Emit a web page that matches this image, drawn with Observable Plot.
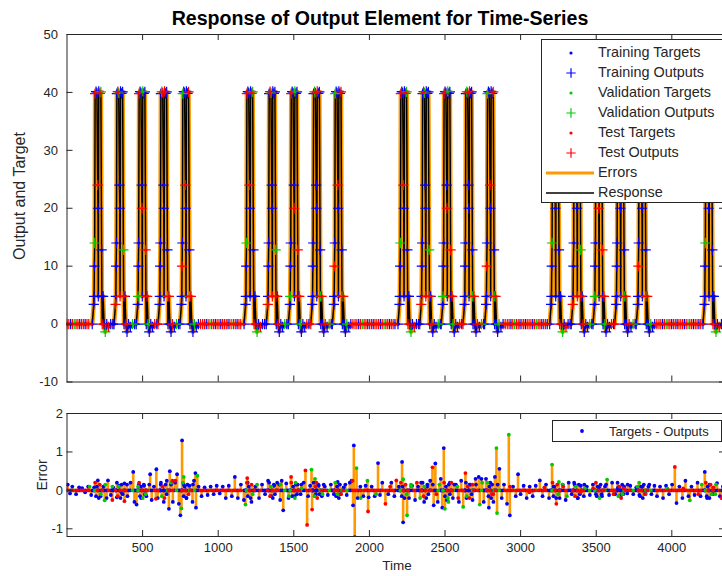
<!DOCTYPE html>
<html>
<head>
<meta charset="utf-8">
<script src="https://cdn.jsdelivr.net/npm/d3@7"></script>
<script src="https://cdn.jsdelivr.net/npm/@observablehq/plot@0.6"></script>
<style>
html, body { margin:0; padding:0; background:#fff; width:722px; height:576px; overflow:hidden; }
#wrap { position:relative; width:730px; height:576px; font-family:"Liberation Sans", Arial, Helvetica, sans-serif; color:#262626; }
#wrap svg.panel { position:absolute; left:0; }
.abs { position:absolute; white-space:nowrap; line-height:1; }
</style>
</head>
<body>
<div id="wrap"></div>
<script>
// ---------------- data ----------------
const xTicks = [500, 1000, 1500, 2000, 2500, 3000, 3500, 4000];
const yTicksTop = [-10, 0, 10, 20, 30, 40, 50];
const yTicksErr = [-1, 0, 1, 2];

// time of each pulse's rising edge (5 groups)
const pulseStarts = [177, 321, 468, 612, 757,
                     1181, 1328, 1474, 1622, 1765,
                     2199, 2343, 2485, 2629, 2772,
                     3202, 3345, 3489, 3632, 3775,
                     4216];
// shape of one pulse: time offsets and target levels
const pulseOffsets = [-10, 0, 2, 4, 6, 9, 15, 21, 26, 28, 30, 33, 40, 47, 52, 54, 56, 62, 68, 76, 86, 98, 112, 126];
const pulseLevels  = [0, 3.4, 4.8, 10, 14, 40, 40, 40, 24, 20, 4.8, 40, 40, 40, 12.8, 4.8, 0, 4.8, 0, -1.2, 0, -0.5, 0, 0];
const pulseShift   = [0, 0, 0, 0, 0, -0.2, 0.15, -0.1, 0, 0, 0, 0.2, -0.15, 0.1, 0, 0, 0, 0, 0, -0.15, 0, 0, 0, 0];
// data division of each pulse point (T training, V validation, S test), by pulse position in group
const pulseSetPatterns = [
  "TTTTVSTTSTTTSVTTSTTVTSTT",
  "TSTTTTSVTTSTTTVSTTSTTTVT",
  "TTVTTSTTTSTVTTSTTSVTTTST",
  "STTTTTVSTTTSTTTVTSTTSTVT",
  "TTTSTVTTSTTTTSTVTSTTVTTS"
];
// flat (zero) stretches between pulse groups
const flatStarts = [0, 897, 1905, 2912, 3915];
const flatEnds   = [155, 1159, 2177, 3180, 4194];
const flatStep = 12;
const flatSets = "SSTSVSSTSSTS";

// extra error samples (time, target - output) by division
const trainErrors = [[5,.15],[20,-.08],[35,.1],[60,-.1],[80,.08],[100,.06],[120,-.05],[140,.1],[160,-.12],[180,.08],
[204,.26],[222,-.15],[240,.1],[262,-.2],[271,.26],[290,-.12],[305,.08],[330,-.18],[345,.12],[360,-.05],
[380,.18],[400,-.15],[420,.2],[438,.48],[446,-.3],[460,-.37],[475,.15],[490,-.2],[510,.12],[525,-.15],
[550,.42],[560,-.25],[575,.1],[591,.55],[600,-.2],[620,.15],[640,-.3],[660,.25],[674,-.48],[680,.5],
[700,-.3],[715,.2],[728,.42],[740,-.35],[750,-.65],[761,1.3],[772,.15],[790,-.2],[810,.12],[830,-.3],
[840,.25],[849,.45],[853,-.45],[870,.1],[890,-.15],[910,.08],[930,-.12],[950,.1],[970,-.1],[990,.12],
[1010,-.08],[1030,.1],[1050,-.2],[1070,.12],[1090,-.15],[1110,.35],[1130,-.2],[1150,.15],[1170,-.25],[1195,.2],
[1220,-.3],[1245,.1],[1270,-.2],[1290,.15],[1310,-.1],[1330,.25],[1350,-.15],[1370,.12],[1390,.2],[1410,-.25],
[1420,.25],[1430,-.52],[1450,.18],[1465,-.2],[1505,-.15],[1525,.15],[1545,-.1],[1565,.2],[1595,-.15],[1608,.12],
[1645,-.1],[1665,.12],[1685,-.15],[1705,.1],[1725,-.12],[1745,.15],[1765,-.1],[1790,.22],[1810,-.1],[1830,.08],
[1850,-.12],[1870,.2],[1882,.25],[1892,-.39],[1897,1.17],[1903,-1.22],[1922,-.2],[1940,.1],[1960,-.15],[1975,.12],
[1995,-.18],[2015,.1],[2035,-.15],[2057,.71],[2070,-.12],[2085,.2],[2125,-.1],[2145,.2],[2165,-.15],[2195,.1],
[2216,.74],[2223,-.83],[2262,-.2],[2282,.12],[2302,-.25],[2322,.1],[2342,.2],[2362,-.3],[2382,.1],[2402,.25],
[2425,-.39],[2436,.7],[2452,-.3],[2472,.3],[2482,-.45],[2492,1.1],[2512,-.25],[2532,.2],[2552,-.2],[2572,.15],
[2592,-.3],[2607,.25],[2642,-.2],[2662,.15],[2682,-.25],[2702,.3],[2723,.35],[2741,.3],[2756,-.3],[2771,.3],
[2790,-.45],[2800,.2],[2820,-.3],[2830,.35],[2860,.56],[2875,-.2],[2890,.15],[2910,-.35],[2929,-.65],[2950,.1],
[2968,-.15],[2983,.42],[3000,-.1],[3020,.12],[3040,-.2],[3060,.1],[3080,-.15],[3100,.12],[3127,.26],[3145,-.15],
[3168,.15],[3188,-.2],[3218,.1],[3258,-.2],[3278,.15],[3298,-.25],[3318,.2],[3338,-.1],[3358,.15],[3378,-.2],
[3398,.12],[3418,-.15],[3438,.1],[3458,-.12],[3478,.15],[3498,-.1],[3518,.08],[3538,-.15],[3558,.1],[3585,-.12],
[3605,.2],[3625,-.1],[3645,.08],[3665,-.12],[3685,.1],[3705,-.08],[3725,.12],[3745,-.1],[3765,.08],[3785,-.12],
[3805,.1],[3825,-.08],[3845,.1],[3865,-.1],[3885,.12],[3902,-.15],[3922,.1],[3942,-.2],[3962,.12],[3982,-.1],
[4002,.15],[4031,-.33],[4050,.1],[4070,-.2],[4090,.25],[4110,-.15],[4130,.1],[4150,-.12],[4170,.2],[4190,-.15],
[4218,.48],[4233,-.2],[4250,.15],[4270,-.1],[4299,.19],[4318,-.15],[4338,.1],[4352,-.1]];
const valErrors = [[150,.1],[249,-.26],[300,.1],[470,.1],[520,-.1],[688,.2],[757,-.47],[772,.35],[862,.38],[1180,-.37],
[1412,.15],[1467,-.15],[1512,.2],[1550,.05],[1617,.54],[1640,.3],[1690,-.1],[1790,-.1],[1915,.58],[1942,-.2],
[1987,.25],[2045,-.1],[2223,.29],[2249,-.65],[2275,.1],[2335,-.2],[2463,.15],[2499,-.48],[2522,-.3],[2582,.1],
[2620,-.43],[2730,-.37],[2746,.2],[2840,1.1],[2844,-.59],[2922,1.45],[3208,.67],[3253,.22],[3306,-.15],[3425,.05],
[3572,.28],[3673,-.1],[3772,.1],[3827,-.1],[3971,.05],[4119,-.26],[4198,.15],[4288,-.1]];
const testErrors = [[300,-.25],[380,-.28],[588,-.22],[697,.25],[717,.25],[1192,.32],[1482,.35],[1577,.52],[1588,-.9],[1621,-.5],
[1650,.2],[1888,.25],[1991,-.55],[2106,-.35],[2137,.1],[2178,.26],[2314,.2],[2417,.6],[2443,-.1],[2542,.2],
[2587,-.2],[2635,.45],[2682,.15],[2810,-.1],[2930,.1],[3058,-.05],[3157,.08],[3236,-.35],[3282,.1],[3396,-.05],
[3480,.05],[3614,-.1],[3680,.05],[4020,.61],[4075,.05],[4175,-.1],[4274,.08],[4328,-.2]];

const legendLabels = ["Training Targets","Training Outputs","Validation Targets","Validation Outputs","Test Targets","Test Outputs","Errors","Response"];
const titleText = "Response of Output Element for Time-Series";

// ---------------- build tables ----------------
const topRows = [];
pulseStarts.forEach((start, i) => {
  const sets = pulseSetPatterns[i % pulseSetPatterns.length];
  pulseOffsets.forEach((off, k) => {
    topRows.push({t: start + off, target: pulseLevels[k], output: pulseLevels[k] + pulseShift[k], set: sets[k]});
  });
});
flatStarts.forEach((s, i) => {
  let n = 0;
  for (let t = s; t <= flatEnds[i]; t += flatStep, n++) {
    topRows.push({t, target: 0, output: 0, set: flatSets[n % flatSets.length]});
  }
});
topRows.sort((a, b) => a.t - b.t);

const errRows = topRows.map(d => ({t: d.t, e: d.target - d.output, set: d.set}))
  .concat(trainErrors.map(([t, e]) => ({t, e, set: "T"})))
  .concat(valErrors.map(([t, e]) => ({t, e, set: "V"})))
  .concat(testErrors.map(([t, e]) => ({t, e, set: "S"})));

// ---------------- styles ----------------
const COL = {T: "#0000ff", V: "#00cc00", S: "#ff0000"};
const ORANGE = "#ff9900";
const AX = "#262626";
const FONT = '"Liberation Sans", Arial, Helvetica, sans-serif';
const plotStyle = {fontFamily: FONT, fontSize: "13px", color: AX, background: "transparent", maxWidth: "none", overflow: "visible"};
const W = 730, ML = 66.5, MR = 5;
const innerW = W - ML - MR;
const xDomain = [0, 4355];
const tickLen = 6;
const fmt = d => String(d);

const wrap = document.getElementById("wrap");

// ---------------- top panel ----------------
const H1 = 395, MT1 = 34, MB1 = 13.5, innerH1 = H1 - MT1 - MB1;
const topMarks = [
  Plot.line(topRows, {x: "t", y: "output", stroke: ORANGE, strokeWidth: 4.5, clip: true}),
  Plot.line(topRows, {x: "t", y: "output", stroke: "#000", strokeWidth: 1.5, clip: true})
];
["T", "V", "S"].forEach(s => {
  const rows = topRows.filter(d => d.set === s);
  topMarks.push(Plot.dot(rows, {x: "t", y: "target", r: 1.5, fill: COL[s], clip: true}));
  topMarks.push(Plot.dot(rows, {x: "t", y: "output", symbol: "plus", r: 3.4, stroke: COL[s], strokeWidth: 1.2, clip: true}));
});
topMarks.push(
  Plot.tickX(xTicks, {x: d => d, stroke: AX, insetTop: innerH1 - tickLen}),
  Plot.tickX(xTicks, {x: d => d, stroke: AX, insetBottom: innerH1 - tickLen}),
  Plot.tickY(yTicksTop, {y: d => d, stroke: AX, insetRight: innerW - tickLen}),
  Plot.tickY(yTicksTop, {y: d => d, stroke: AX, insetLeft: innerW - tickLen}),
  Plot.axisY(yTicksTop, {anchor: "left", tickSize: 0, tickPadding: 9, label: null, tickFormat: fmt}),
  Plot.frame({stroke: AX, strokeWidth: 1})
);
const topSvg = Plot.plot({
  width: W, height: H1, marginLeft: ML, marginRight: MR, marginTop: MT1, marginBottom: MB1,
  x: {domain: xDomain, axis: null},
  y: {domain: [-10, 50]},
  style: plotStyle,
  marks: topMarks
});
topSvg.classList.add("panel");
topSvg.style.top = "0px";
wrap.appendChild(topSvg);

// ---------------- error panel ----------------
const H2 = 181, MT2 = 18, MB2 = 40, innerH2 = H2 - MT2 - MB2;
const errMarks = [
  Plot.ruleX(errRows, {x: "t", y1: 0, y2: "e", stroke: ORANGE, strokeWidth: 2.6, clip: true})
];
["T", "V", "S"].forEach(s => {
  errMarks.push(Plot.dot(errRows.filter(d => d.set === s), {x: "t", y: "e", r: 1.9, fill: COL[s], clip: true}));
});
errMarks.push(
  Plot.tickX(xTicks, {x: d => d, stroke: AX, insetTop: innerH2 - tickLen}),
  Plot.tickX(xTicks, {x: d => d, stroke: AX, insetBottom: innerH2 - tickLen}),
  Plot.tickY(yTicksErr, {y: d => d, stroke: AX, insetRight: innerW - tickLen}),
  Plot.tickY(yTicksErr, {y: d => d, stroke: AX, insetLeft: innerW - tickLen}),
  Plot.axisY(yTicksErr, {anchor: "left", tickSize: 0, tickPadding: 4, label: null, tickFormat: fmt}),
  Plot.axisX(xTicks, {anchor: "bottom", tickSize: 0, tickPadding: 6, label: null, tickFormat: fmt}),
  Plot.frame({stroke: AX, strokeWidth: 1})
);
const errSvg = Plot.plot({
  width: W, height: H2, marginLeft: ML, marginRight: MR, marginTop: MT2, marginBottom: MB2,
  x: {domain: xDomain},
  y: {domain: [-1.2, 2]},
  style: plotStyle,
  marks: errMarks
});
errSvg.classList.add("panel");
errSvg.style.top = "395px";
wrap.appendChild(errSvg);

// ---------------- texts ----------------
function addText(txt, css) {
  const d = document.createElement("div");
  d.className = "abs";
  d.textContent = txt;
  Object.assign(d.style, css);
  wrap.appendChild(d);
  return d;
}
addText(titleText, {left: "380px", top: "9px", transform: "translateX(-50%)", fontSize: "19.6px", fontWeight: "bold", color: "#000"});
addText("Output and Target", {left: "20px", top: "196px", transform: "translate(-50%,-50%) rotate(-90deg)", fontSize: "16px"});
addText("Error", {left: "42px", top: "475px", transform: "translate(-50%,-50%) rotate(-90deg)", fontSize: "14px"});
addText("Time", {left: "397px", top: "566px", transform: "translate(-50%,-50%)", fontSize: "13.5px"});

// ---------------- legends ----------------
const NS = "http://www.w3.org/2000/svg";
function legendSymbol(kind, color) {
  const svg = document.createElementNS(NS, "svg");
  svg.setAttribute("width", 56); svg.setAttribute("height", 12);
  let inner = "";
  if (kind === "dot") inner = `<circle cx="29" cy="6" r="1.6" fill="${color}"/>`;
  if (kind === "plus") inner = `<path d="M24.3,6H33.7M29,1.3V10.7" stroke="${color}" stroke-width="1.2" fill="none"/>`;
  if (kind === "line") inner = `<line x1="4" y1="6" x2="52" y2="6" stroke="${color}" stroke-width="${color === ORANGE ? 3 : 1.4}"/>`;
  svg.innerHTML = inner;
  return svg;
}
const legendKinds = [["dot", COL.T], ["plus", COL.T], ["dot", COL.V], ["plus", COL.V], ["dot", COL.S], ["plus", COL.S], ["line", ORANGE], ["line", "#000"]];
const lg = document.createElement("div");
lg.className = "abs";
Object.assign(lg.style, {left: "541px", top: "39px", width: "186px", height: "162px", border: "1px solid " + AX, background: "#fff"});
wrap.appendChild(lg);
legendLabels.forEach((lab, i) => {
  const cy = 12.7 + 20 * i;
  const sym = legendSymbol(...legendKinds[i]);
  sym.style.position = "absolute"; sym.style.left = "0px"; sym.style.top = (cy - 6) + "px";
  lg.appendChild(sym);
  const t = document.createElement("div");
  t.className = "abs";
  t.textContent = lab;
  Object.assign(t.style, {left: "56px", top: (cy - 7.3) + "px", fontSize: "14.4px"});
  lg.appendChild(t);
});

const lg2 = document.createElement("div");
lg2.className = "abs";
Object.assign(lg2.style, {left: "552px", top: "420px", width: "168px", height: "20px", border: "1px solid " + AX, background: "#fff"});
wrap.appendChild(lg2);
const s2 = legendSymbol("dot", COL.T);
s2.style.position = "absolute"; s2.style.left = "0px"; s2.style.top = "4px";
s2.querySelector("circle").setAttribute("r", "1.9");
lg2.appendChild(s2);
const t2 = document.createElement("div");
t2.className = "abs";
t2.textContent = "Targets - Outputs";
Object.assign(t2.style, {left: "56px", top: "4px", fontSize: "13px"});
lg2.appendChild(t2);
</script>
</body>
</html>
